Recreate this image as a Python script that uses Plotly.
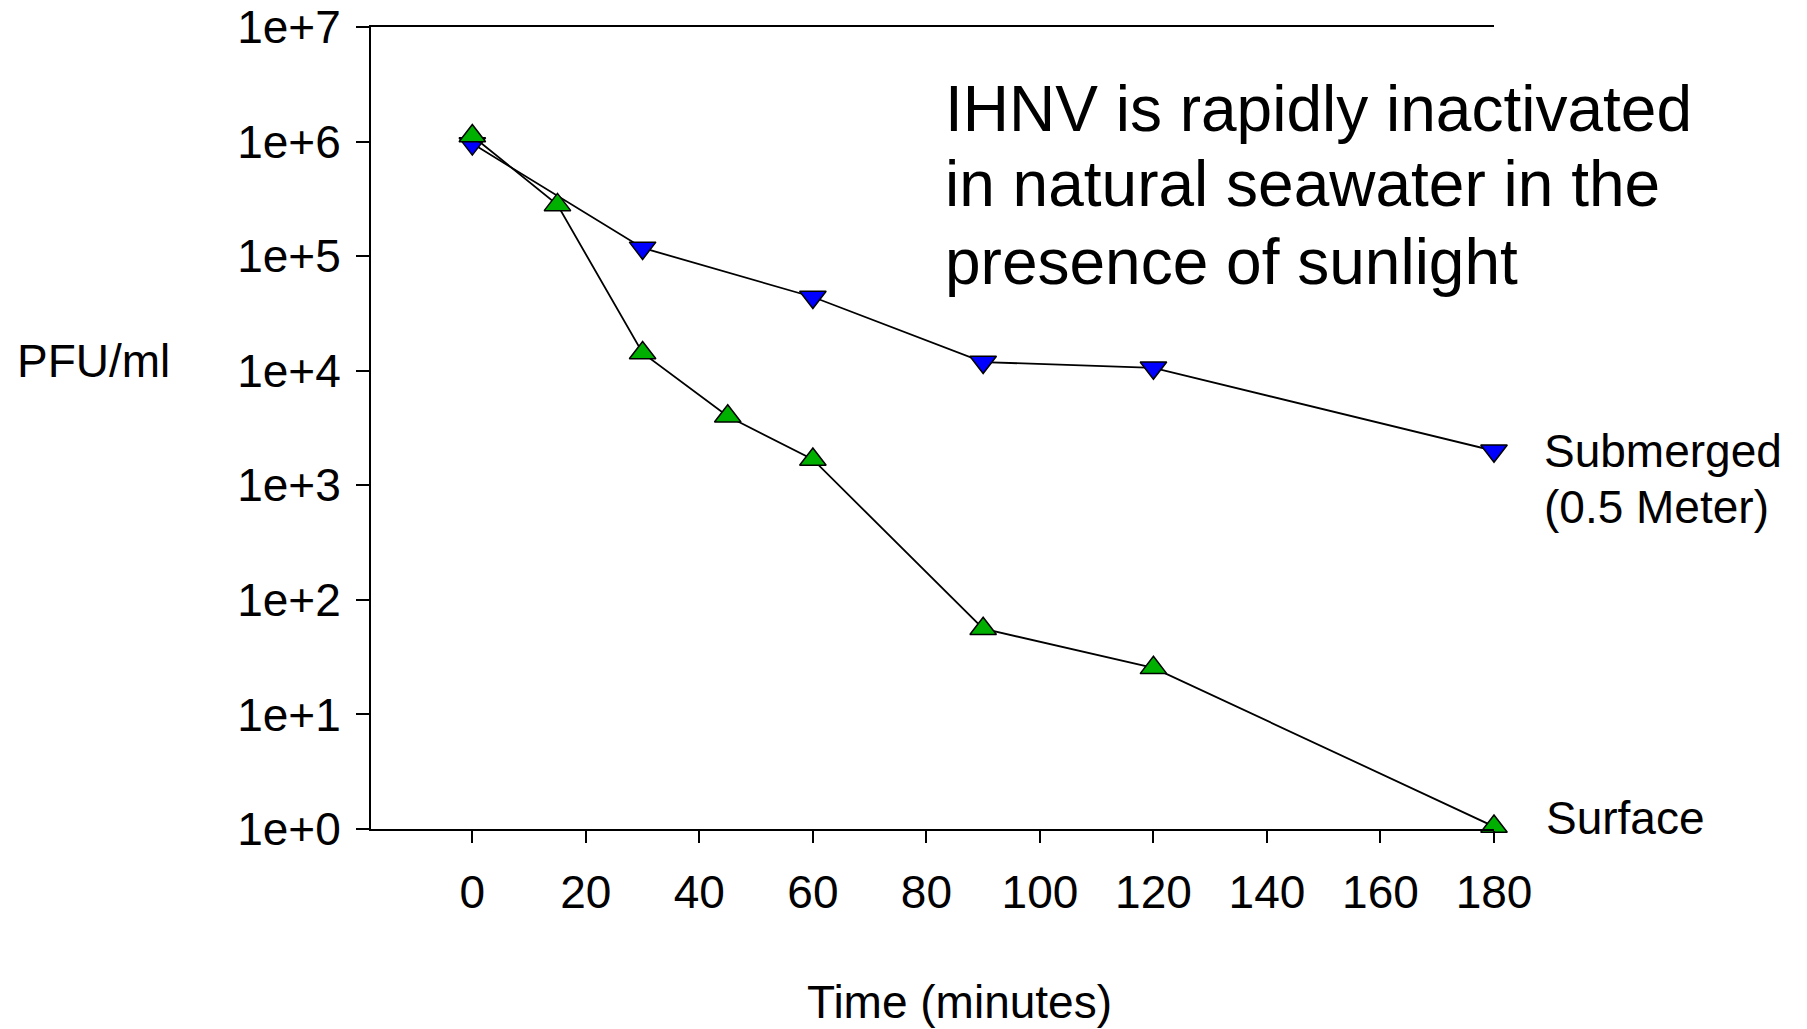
import plotly.graph_objects as go

# Data
surface_time = [0, 15, 30, 45, 60, 90, 120, 180]
surface_pfu = [1.12e6, 2.8e5, 1.43e4, 4.0e3, 1.68e3, 56, 25.5, 1.05]

submerged_time = [0, 30, 60, 90, 120, 180]
submerged_pfu = [9.6e5, 1.18e5, 4.4e4, 1.19e4, 1.06e4, 2.0e3]

x_ticks = [0, 20, 40, 60, 80, 100, 120, 140, 160, 180]
y_tickvals = [1, 10, 100, 1e3, 1e4, 1e5, 1e6, 1e7]
y_ticktext = ["1e+0", "1e+1", "1e+2", "1e+3", "1e+4", "1e+5", "1e+6", "1e+7"]

title_lines = ["IHNV is rapidly inactivated", "in natural seawater in the", "presence of sunlight"]
submerged_label = ["Submerged", "(0.5 Meter)"]

FONT = "Liberation Sans, Arial, sans-serif"

L, R, T, B = 371, 1494, 27, 829  # plot area in pixels


def px_x(px):
    return (px - L) / (R - L)


def px_y(py):
    return 1 - (py - T) / (B - T)


fig = go.Figure()
fig.add_trace(go.Scatter(
    x=submerged_time, y=submerged_pfu, mode="lines+markers",
    line=dict(color="black", width=1.8),
    marker=dict(symbol="triangle-down", size=23, color="#0000FF",
                line=dict(color="black", width=1.5)),
    cliponaxis=False, showlegend=False))
fig.add_trace(go.Scatter(
    x=surface_time, y=surface_pfu, mode="lines+markers",
    line=dict(color="black", width=1.8),
    marker=dict(symbol="triangle-up", size=23, color="#00B000",
                line=dict(color="black", width=1.5)),
    cliponaxis=False, showlegend=False))

fig.update_layout(
    width=1807, height=1029,
    margin=dict(l=L, r=1807 - R, t=T, b=1029 - B),
    paper_bgcolor="white", plot_bgcolor="white",
    font=dict(family=FONT, size=46, color="black"),
    xaxis=dict(range=[-17.85, 180], tickvals=x_ticks, showline=True,
               linecolor="black", linewidth=2, mirror=True,
               ticks="outside", ticklen=12, tickwidth=2, tickcolor="black",
               showgrid=False, zeroline=False, ticklabelstandoff=10,
               automargin=False, tickfont=dict(size=46)),
    yaxis=dict(type="log", range=[0, 7], tickvals=y_tickvals, ticktext=y_ticktext,
               showline=True, linecolor="black", linewidth=2,
               ticks="outside", ticklen=13, tickwidth=2, tickcolor="black",
               showgrid=False, zeroline=False, ticklabelstandoff=6,
               ticklabeloverflow="allow", automargin=False,
               tickfont=dict(size=46)),
)

for line_text, cy in zip(submerged_label, [451, 507]):
    fig.add_annotation(x=px_x(1542), y=px_y(cy), xref="paper", yref="paper",
                       text=line_text, showarrow=False,
                       xanchor="left", yanchor="middle", align="left",
                       font=dict(size=46))
fig.add_annotation(x=px_x(1544), y=px_y(818), xref="paper", yref="paper",
                   text="Surface", showarrow=False,
                   xanchor="left", yanchor="middle", align="left",
                   font=dict(size=46))
for line_text, cy in zip(title_lines, [109.5, 184.4, 261.6]):
    fig.add_annotation(x=px_x(943), y=px_y(cy), xref="paper", yref="paper",
                       text=line_text, showarrow=False,
                       xanchor="left", yanchor="middle", align="left",
                       font=dict(size=64))
fig.add_annotation(x=px_x(93), y=px_y(361), xref="paper", yref="paper",
                   text="PFU/ml", showarrow=False,
                   xanchor="center", yanchor="middle", font=dict(size=46))
fig.add_annotation(x=px_x(959), y=px_y(1002), xref="paper", yref="paper",
                   text="Time (minutes)", showarrow=False,
                   xanchor="center", yanchor="middle", font=dict(size=46))

fig.write_html("out.html")
